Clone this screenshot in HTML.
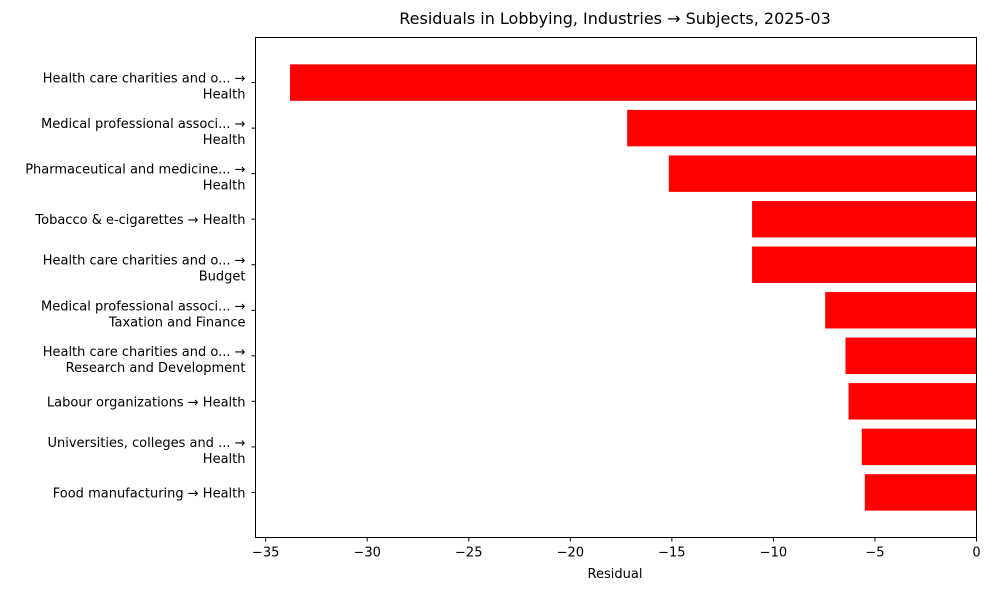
<!DOCTYPE html>
<html><head><meta charset="utf-8"><style>
html,body{margin:0;padding:0;background:#fff;}
svg text{font-family:"DejaVu Sans","Liberation Sans",sans-serif;fill:#000;}
</style></head><body>
<svg id="chart" width="989" height="590" viewBox="0 0 989 590" xmlns="http://www.w3.org/2000/svg">
<rect width="989" height="590" fill="#fff"/>
<text x="615" y="24" font-size="16" text-anchor="middle">Residuals in Lobbying, Industries → Subjects, 2025-03</text>
<g id="bars"></g>
<g id="yticks"></g>
<g id="xticks"></g>
<rect x="255.5" y="37.5" width="721" height="500" fill="none" stroke="#000" stroke-width="1"/>
<text x="615" y="578" font-size="13" text-anchor="middle">Residual</text>
</svg>
<script>
const categoryLine1 = ["Health care charities and o... →","Medical professional associ... →","Pharmaceutical and medicine... →","Tobacco & e-cigarettes → Health","Health care charities and o... →","Medical professional associ... →","Health care charities and o... →","Labour organizations → Health","Universities, colleges and ... →","Food manufacturing → Health"];
const categoryLine2 = ["Health","Health","Health","","Budget","Taxation and Finance","Research and Development","","Health",""];
const residuals = [-33.8,-17.2,-15.15,-11.05,-11.05,-7.45,-6.45,-6.3,-5.65,-5.5];
const xTicks = [-35,-30,-25,-20,-15,-10,-5,0];
const xTickLabels = ["−35","−30","−25","−20","−15","−10","−5","0"];

(function(){
const NS="http://www.w3.org/2000/svg";
const plotL=255.5,plotR=976.5,plotT=37.5,plotB=537.5;
const xMin=-35.5,xMax=0;
function xs(v){return plotL+(v-xMin)/(xMax-xMin)*(plotR-plotL);}
const n=residuals.length;
const yMin=-0.5-0.49,yMax=n-0.5+0.49;
function ys(i){return plotT+(i-yMin)/(yMax-yMin)*(plotB-plotT);}
const bh=0.8*(plotB-plotT)/(yMax-yMin);
function mk(tag,attrs,parent){const e=document.createElementNS(NS,tag);for(const k in attrs)e.setAttribute(k,attrs[k]);parent.appendChild(e);return e;}
const gb=document.getElementById('bars'),gy=document.getElementById('yticks'),gx=document.getElementById('xticks');
residuals.forEach((v,i)=>{
  const x0=xs(Math.min(v,0)),x1=xs(Math.max(v,0));
  const r=mk('rect',{x:x0,y:ys(i)-bh/2,width:x1-x0,height:bh,fill:'#ff0000'},gb);
  
  
  const cy=ys(i);
  const t=mk('line',{x1:plotL-4,x2:plotL,y1:cy,y2:cy,stroke:'#000'},gy);
  
  
  const two=categoryLine2[i]!=="";
  const lab=mk('text',{x:plotL-10,'font-size':13,'text-anchor':'end'},gy);
  
  
  if(two){
    const a=mk('tspan',{x:plotL-10,y:cy+0},lab);a.textContent=categoryLine1[i];
    const b=mk('tspan',{x:plotL-10,y:cy+16},lab);b.textContent=categoryLine2[i];
  }else{
    lab.setAttribute('y',cy+5);lab.textContent=categoryLine1[i];
  }
});
xTicks.forEach((v,i)=>{
  const x=xs(v);
  const t=mk('line',{x1:x,x2:x,y1:plotB,y2:plotB+4,stroke:'#000'},gx);
  
  
  const l=mk('text',{x:x,y:plotB+19,'font-size':13,'text-anchor':'middle'},gx);
  
  
  l.textContent=xTickLabels[i];
});
})();
</script>
</body></html>
